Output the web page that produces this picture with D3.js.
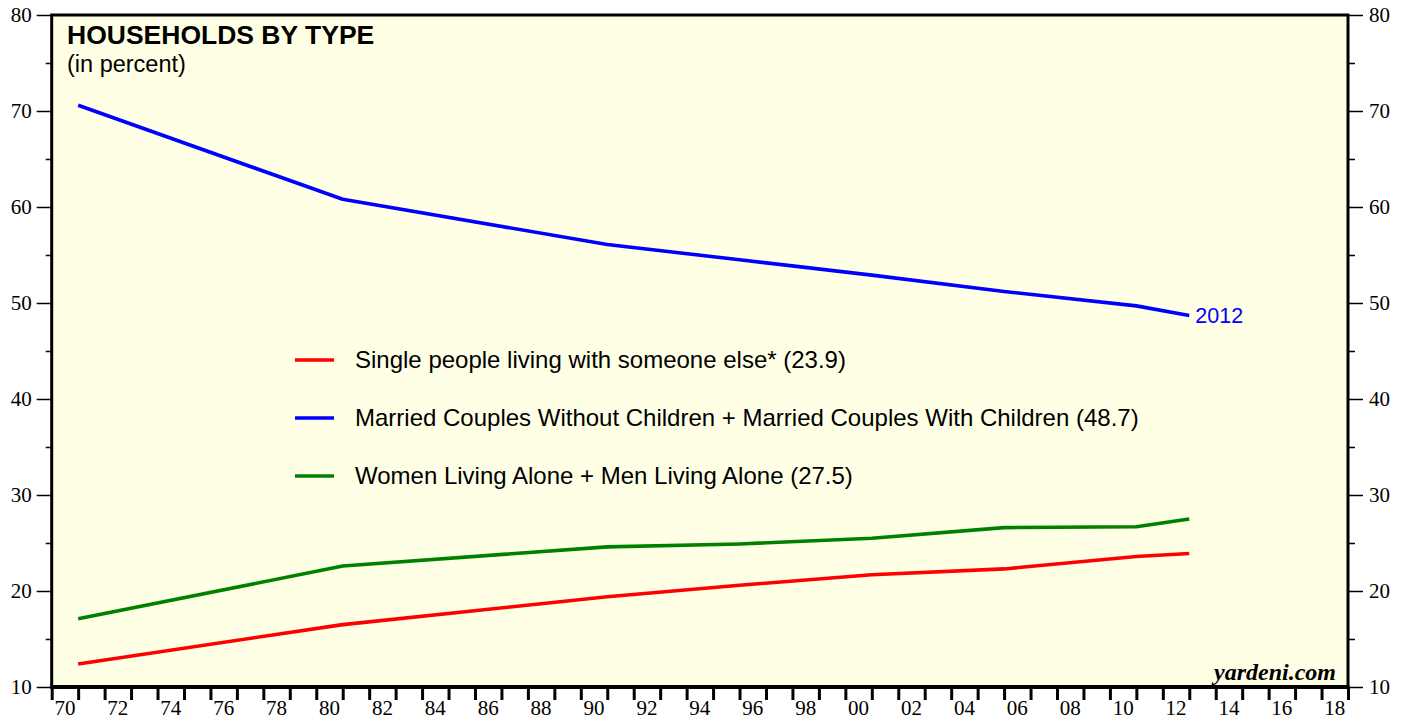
<!DOCTYPE html>
<html><head><meta charset="utf-8">
<script src="https://cdn.jsdelivr.net/npm/d3@7"></script>
<style>body{margin:0;background:#fff;}svg{display:block;}</style>
</head><body>
<svg id="c" width="1408" height="719"></svg>
<script>
const years = [1970, 1980, 1990, 1995, 2000, 2005, 2010, 2012];
const singleOther = [12.4, 16.5, 19.4, 20.6, 21.7, 22.3, 23.6, 23.9];
const married = [70.6, 60.8, 56.1, 54.5, 52.9, 51.2, 49.7, 48.7];
const alone = [17.1, 22.6, 24.6, 24.9, 25.5, 26.6, 26.7, 27.5];
const seriesNames = ["Single people living with someone else* (23.9)",
  "Married Couples Without Children + Married Couples With Children (48.7)",
  "Women Living Alone + Men Living Alone (27.5)"];
const seriesColors = ["#ff0000", "#0000ff", "#008000"];
const yTicks = [10, 20, 30, 40, 50, 60, 70, 80];
const xLabelYears = d3.range(1970, 2019, 2);

const svg = d3.select("#c");
const L = 51.7, R = 1348, T = 15, B = 687;
const x = d3.scaleLinear().domain([1970, 2019]).range([L, R]);
const y = d3.scaleLinear().domain([10, 80]).range([B, T]);

svg.append("rect").attr("x", L).attr("y", T).attr("width", R - L).attr("height", B - T).attr("fill", "#ffffe6");

const serif = "'Liberation Serif','DejaVu Serif',serif";
const sans = "'Liberation Sans',Arial,sans-serif";

// left axis
const gl = svg.append("g").attr("transform", `translate(${L},0)`)
  .call(d3.axisLeft(y).tickValues(yTicks).tickSize(15).tickPadding(5).tickFormat(d3.format("d")));
gl.select(".domain").remove();
gl.selectAll("text").attr("font-family", serif).attr("font-size", 21).attr("fill", "#000");
gl.selectAll("line").attr("stroke", "#000").attr("stroke-width", 1.5);
const glm = svg.append("g").attr("transform", `translate(${L},0)`)
  .call(d3.axisLeft(y).tickValues(d3.range(15, 80, 10)).tickSize(6).tickFormat(""));
glm.select(".domain").remove();
glm.selectAll("line").attr("stroke", "#000").attr("stroke-width", 1.5);

// right axis
const gr = svg.append("g").attr("transform", `translate(${R},0)`)
  .call(d3.axisRight(y).tickValues(yTicks).tickSize(15).tickPadding(6).tickFormat(d3.format("d")));
gr.select(".domain").remove();
gr.selectAll("text").attr("font-family", serif).attr("font-size", 21).attr("fill", "#000");
gr.selectAll("line").attr("stroke", "#000").attr("stroke-width", 1.5);
const grm = svg.append("g").attr("transform", `translate(${R},0)`)
  .call(d3.axisRight(y).tickValues(d3.range(15, 80, 10)).tickSize(7).tickFormat(""));
grm.select(".domain").remove();
grm.selectAll("line").attr("stroke", "#000").attr("stroke-width", 1.5);

// bottom axis: ticks at each year boundary, labels centered in even years
const gb = svg.append("g").attr("transform", `translate(0,${B})`)
  .call(d3.axisBottom(x).tickValues(d3.range(1970, 2020)).tickSize(13).tickFormat(""));
gb.select(".domain").remove();
gb.selectAll("line").attr("stroke", "#000").attr("stroke-width", 3);
svg.append("g").selectAll("text").data(xLabelYears).join("text")
  .attr("x", d => x(d + 0.5)).attr("y", 715).attr("text-anchor", "middle")
  .attr("font-family", serif).attr("font-size", 21).attr("fill", "#000")
  .text(d => String(d % 100).padStart(2, "0"));

// frame
svg.append("path").attr("d", `M${L},${B}V${T}H${R}V${B}`).attr("fill", "none").attr("stroke", "#000").attr("stroke-width", 3);
svg.append("line").attr("x1", L - 1.5).attr("x2", R + 1.5).attr("y1", B).attr("y2", B).attr("stroke", "#000").attr("stroke-width", 4);

// lines (data for a year plotted at year end)
const data = [singleOther, married, alone];
const line = d3.line().x((d, i) => x(years[i] + 1)).y(d => y(d));
data.forEach((s, k) => {
  svg.append("path").datum(s).attr("d", line).attr("fill", "none")
    .attr("stroke", seriesColors[k]).attr("stroke-width", 3.6).attr("stroke-linejoin", "round");
});

svg.append("text").attr("x", x(2013) + 6).attr("y", y(48.7) + 8)
  .attr("font-family", sans).attr("font-size", 21.5).attr("fill", "#0000ff").text("2012");

// titles
svg.append("text").attr("x", 67).attr("y", 44).attr("font-family", sans).attr("font-weight", "bold")
  .attr("font-size", 26.5).text("HOUSEHOLDS BY TYPE");
svg.append("text").attr("x", 67).attr("y", 72).attr("font-family", sans)
  .attr("font-size", 23.5).text("(in percent)");

// legend
const legY = [360, 418, 476];
seriesNames.forEach((n, k) => {
  svg.append("line").attr("x1", 295).attr("x2", 334).attr("y1", legY[k]).attr("y2", legY[k])
    .attr("stroke", seriesColors[k]).attr("stroke-width", 3.6);
  svg.append("text").attr("x", 355).attr("y", legY[k] + 8).attr("font-family", sans)
    .attr("font-size", 24).attr("fill", "#000").text(n);
});

svg.append("text").attr("x", 1336).attr("y", 680).attr("text-anchor", "end")
  .attr("font-family", serif).attr("font-style", "italic").attr("font-weight", "bold")
  .attr("font-size", 24).text("yardeni.com");
</script>
</body></html>
